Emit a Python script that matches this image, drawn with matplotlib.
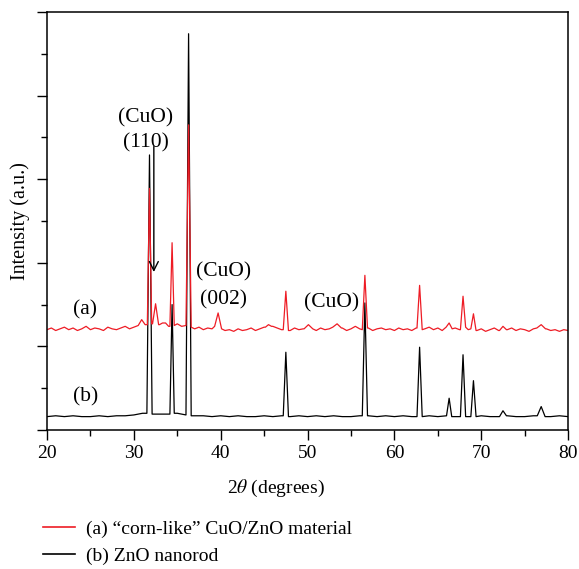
import numpy as np
import matplotlib
matplotlib.use("Agg")
import matplotlib.pyplot as plt
from matplotlib.lines import Line2D

plt.rcParams["font.family"] = ["Liberation Serif", "DejaVu Serif"]
plt.rcParams["mathtext.fontset"] = "stix"

# (b) ZnO nanorod: baseline every 1 degree from 20 to 80
base_b = [0.16, 0.17, 0.16, 0.17, 0.16, 0.16, 0.17, 0.16, 0.17, 0.17,
          0.18, 0.20, 0.19, 0.19, 0.19, 0.20, 0.18, 0.17, 0.17, 0.16,
          0.17, 0.16, 0.17, 0.16, 0.16, 0.17, 0.16, 0.17, 0.16, 0.17,
          0.16, 0.17, 0.16, 0.17, 0.16, 0.16, 0.17, 0.17, 0.16, 0.17,
          0.16, 0.17, 0.16, 0.16, 0.17, 0.16, 0.17, 0.16, 0.16, 0.16,
          0.17, 0.16, 0.16, 0.17, 0.16, 0.16, 0.17, 0.16, 0.16, 0.17, 0.16]
peak_x_b = [31.8, 34.4, 36.3, 47.5, 56.6, 62.9, 66.3, 67.9, 69.1, 72.5, 76.9]
peak_h_b = [3.29, 1.50, 4.74, 0.93, 1.52, 0.99, 0.38, 0.90, 0.59, 0.23, 0.28]
peak_w_b = [0.30, 0.25, 0.30, 0.30, 0.30, 0.30, 0.30, 0.30, 0.30, 0.40, 0.45]

# (a) corn-like CuO/ZnO: baseline every 0.5 degree from 20 to 80
base_a = [1.20, 1.22, 1.19, 1.21, 1.23, 1.20, 1.22, 1.19, 1.21, 1.24,
          1.20, 1.22, 1.21, 1.19, 1.23, 1.21, 1.20, 1.22, 1.24, 1.21,
          1.23, 1.25, 1.27, 1.26, 1.27, 1.28, 1.26, 1.28, 1.24, 1.25,
          1.27, 1.24, 1.25, 1.23, 1.21, 1.23, 1.20, 1.22, 1.21, 1.24,
          1.21, 1.19, 1.20, 1.18, 1.21, 1.19, 1.20, 1.22, 1.19, 1.21,
          1.23, 1.20, 1.24, 1.22, 1.20, 1.21, 1.19, 1.22, 1.20, 1.21,
          1.23, 1.21, 1.19, 1.22, 1.20, 1.21, 1.23, 1.20, 1.22, 1.19,
          1.21, 1.24, 1.21, 1.20, 1.22, 1.19, 1.21, 1.22, 1.20, 1.21,
          1.19, 1.22, 1.20, 1.21, 1.19, 1.22, 1.20, 1.21, 1.23, 1.20,
          1.22, 1.19, 1.23, 1.21, 1.22, 1.20, 1.23, 1.20, 1.21, 1.19,
          1.21, 1.18, 1.20, 1.22, 1.19, 1.21, 1.20, 1.22, 1.19, 1.21,
          1.20, 1.18, 1.21, 1.22, 1.19, 1.21, 1.19, 1.20, 1.18, 1.20, 1.19]
peak_x_a = [30.9, 31.8, 32.5, 33.3, 34.4, 36.3, 39.7, 45.5, 47.5, 50.1,
            53.4, 56.6, 62.9, 66.3, 67.9, 69.1, 72.5, 76.9]
peak_h_a = [1.32, 2.89, 1.51, 1.28, 2.24, 3.65, 1.40, 1.26, 1.66, 1.26,
            1.27, 1.85, 1.73, 1.28, 1.60, 1.39, 1.24, 1.26]
peak_w_a = [0.40, 0.25, 0.35, 0.35, 0.25, 0.30, 0.40, 0.35, 0.30, 0.50,
            0.50, 0.30, 0.30, 0.35, 0.30, 0.30, 0.40, 0.50]

labels = ["(a) \u201ccorn-like\u201d CuO/ZnO material", "(b) ZnO nanorod"]
red = "#ee1c25"


def build_curve(base, px, ph, pw):
    bx = np.linspace(20, 80, len(base))
    by = np.array(base)
    keep = np.ones(len(bx), bool)
    xs, ys = [], []
    for x0, h, w in zip(px, ph, pw):
        keep &= np.abs(bx - x0) >= w
        lo = by[np.argmin(np.abs(bx - (x0 - w)))]
        hi = by[np.argmin(np.abs(bx - (x0 + w)))]
        xs += [x0 - w, x0, x0 + w]
        ys += [lo, h, hi]
    xs = np.concatenate([bx[keep], xs])
    ys = np.concatenate([by[keep], ys])
    order = np.argsort(xs)
    return xs[order], ys[order]


fig = plt.figure(figsize=(5.79, 5.69), dpi=100)
ax = fig.add_axes([0.0812, 0.2443, 0.900, 0.7346])

xb, yb = build_curve(base_b, peak_x_b, peak_h_b, peak_w_b)
xa, ya = build_curve(base_a, peak_x_a, peak_h_a, peak_w_a)
ax.plot(xb, yb, color="black", lw=0.9)
ax.plot(xa, ya, color=red, lw=0.9)

ax.set_xlim(20, 80)
ax.set_ylim(0, 5)
ax.set_xticks(np.arange(20, 81, 10))
ax.set_xticks(np.arange(25, 80, 10), minor=True)
ax.set_yticks(np.arange(0, 5.1, 1))
ax.set_yticks(np.arange(0.5, 5, 1), minor=True)
ax.set_yticklabels([])
ax.tick_params(direction="out", which="major", length=7, width=1.0, labelsize=14)
ax.tick_params(direction="out", which="minor", length=4.5, width=1.0)
for s in ax.spines.values():
    s.set_linewidth(1.1)

ax.set_ylabel("Intensity (a.u.)", fontsize=14.5, labelpad=2)
ax.set_xlabel("2$\\theta$ (degrees)", fontsize=14, labelpad=10)
ax.xaxis.set_label_coords(0.44, -0.115)

fs = 15.5
ax.text(31.4, 3.73, "(CuO)", ha="center", va="center", fontsize=fs)
ax.text(31.4, 3.44, "(110)", ha="center", va="center", fontsize=fs)
ax.annotate("", xy=(32.3, 1.89), xytext=(32.3, 3.39),
            arrowprops=dict(arrowstyle="->", color="black", lw=1.0,
                            mutation_scale=16, shrinkA=0, shrinkB=0))
ax.text(40.3, 1.89, "(CuO)", ha="center", va="center", fontsize=fs)
ax.text(40.3, 1.56, "(002)", ha="center", va="center", fontsize=fs)
ax.text(52.8, 1.52, "(CuO)", ha="center", va="center", fontsize=fs)
ax.text(24.4, 1.44, "(a)", ha="center", va="center", fontsize=fs)
ax.text(24.4, 0.40, "(b)", ha="center", va="center", fontsize=fs)

handles = [Line2D([], [], color=red, lw=1.2), Line2D([], [], color="black", lw=1.2)]
fig.legend(handles, labels, loc="upper left", bbox_to_anchor=(0.06, 0.10),
           frameon=False, fontsize=14, handlelength=1.65, handletextpad=0.6,
           labelspacing=0.5, borderaxespad=0)

fig.savefig("out.png", dpi=100)
